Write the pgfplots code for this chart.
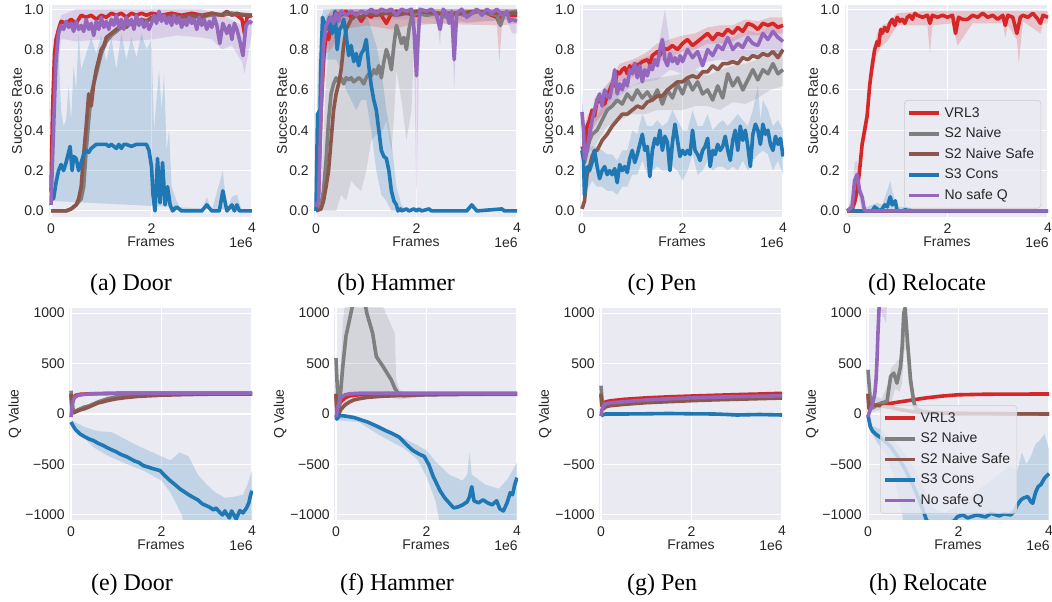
\documentclass[border=0pt]{standalone}
\usepackage{fontspec}
\setmainfont{Liberation Sans}
\newfontfamily\capfont{Liberation Serif}
\usepackage{pgfplots}
\pgfplotsset{compat=1.18}
\definecolor{bgc}{HTML}{EAEAF2}
\definecolor{cR}{HTML}{D62728}
\definecolor{cG}{HTML}{7F7F7F}
\definecolor{cBr}{HTML}{8C564B}
\definecolor{cBl}{HTML}{1F77B4}
\definecolor{cP}{HTML}{9467BD}
\definecolor{legedge}{HTML}{CCCCCC}
\definecolor{txt}{HTML}{262626}
\newcommand\tf{\fontsize{10.5}{12.6}\selectfont\color{txt}}
\newcommand\cf{\capfont\fontsize{18}{21}\selectfont}
\pgfplotsset{
 base/.style={scale only axis, height=159pt,
   axis background/.style={fill=bgc},
   axis line style={draw=none},
   major tick length=0pt,
   xmajorgrids, ymajorgrids, grid style={white, line width=0.8pt},
   xtick={0,2,4}, xticklabels={0,2,4},
   tick label style={font=\tf, inner sep=0pt},
   xticklabel style={anchor=north, yshift=-4.5pt},
   /pgf/number format/assume math mode=true,
   xlabel={Frames},
   every axis x label/.style={at={([yshift=-15pt]rel axis cs:0.5,0)}, anchor=north, inner sep=0pt, font=\tf},
   every axis plot/.append style={line width=2.7pt, line join=round},
   legend image code/.code={\draw[#1, line width=2.7pt] (0pt,0pt) -- (22.5pt,0pt);},
   extra description/.code={\node[anchor=north east,inner sep=0pt,font=\tf] at ([yshift=-15pt]1,0) {1e6};},
   legend style={draw=legedge, fill=bgc, fill opacity=0.8, draw opacity=1, text opacity=1,
     rounded corners=2.5pt, font=\tf, inner xsep=2pt, inner ysep=2pt, row sep=0pt,
     nodes={text height=7.6pt, text depth=1.8pt, inner ysep=3pt, inner xsep=3pt}},
   legend cell align=left,
 },
 sr/.style={base, width=153pt, xmin=-0.04, xmax=4.02, ymin=-0.03, ymax=1.021,
   ytick={0,0.2,0.4,0.6,0.8,1}, yticklabels={0.0,0.2,0.4,0.6,0.8,1.0},
   yticklabel style={anchor=east, xshift=-3.75pt},
   ylabel={Success Rate},
   every axis y label/.style={at={([xshift=-24pt]rel axis cs:0,0.5)}, rotate=90, anchor=center, inner sep=0pt, font=\tf}},
 qv/.style={base, width=138pt, xmin=-0.044, xmax=4.022, ymin=-1050, ymax=1050,
   ytick={-1000,-500,0,500,1000}, yticklabels={−1000,−500,0,500,1000},
   yticklabel style={anchor=east, xshift=-3pt},
   ylabel={Q Value},
   every axis y label/.style={at={([xshift=-40.5pt]rel axis cs:0,0.5)}, rotate=90, anchor=center, inner sep=0pt, font=\tf}},
 band/.style={draw=none, fill=#1, fill opacity=0.2, forget plot},
 lR/.style={cR}, lG/.style={cG}, lBr/.style={cBr}, lBl/.style={cBl}, lP/.style={cP},
}
\begin{document}
\begin{tikzpicture}
\path[use as bounding box] (0,0) rectangle (789pt,451.5pt);
% ================= (a) Door success
\begin{axis}[sr, at={(36.75pt,288.75pt)}, anchor=south west]
\addplot[band=cBl] coordinates {(0,0.12) (0.05,0.3) (0.1,0.5) (0.15,0.82) (0.2,0.5) (0.25,0.42) (0.3,0.45) (0.35,0.62) (0.4,0.45) (0.45,0.72) (0.5,0.6) (0.55,0.88) (0.6,0.7) (0.7,0.78) (0.8,0.86) (0.9,0.78) (1.0,0.87) (1.1,0.74) (1.2,0.86) (1.3,0.7) (1.4,0.88) (1.5,0.75) (1.6,0.86) (1.7,0.76) (1.8,0.88) (1.9,0.8) (2.0,0.85) (2.05,0.4) (2.1,0.55) (2.15,0.7) (2.2,0.5) (2.25,0.68) (2.3,0.3) (2.35,0.4) (2.4,0.12) (2.5,0.05) (2.6,0.0) (3.0,0.0) (3.1,0.07) (3.2,0.0) (3.42,0.2) (3.5,0.0) (3.6,0.07) (3.7,0.08) (3.8,0.0) (4.0,0.0) (4.0,0) (0,0.05)};
\addplot[band=cP] coordinates {(0,0.05) (0.1,0.85) (0.2,0.97) (0.5,1.0) (1,1.0) (2,1.0) (3,1.0) (3.4,0.97) (3.8,0.92) (4,0.97) (4,0.88) (3.85,0.68) (3.8,0.74) (3.6,0.82) (3.4,0.8) (3.2,0.85) (3,0.86) (2.5,0.87) (2.0,0.85) (1.5,0.84) (1.0,0.85) (0.5,0.84) (0.3,0.85) (0.2,0.85) (0.1,0.6) (0,0.01)};
\addplot[lR] coordinates {(0,0.1) (0.03,0.5) (0.07,0.78) (0.1,0.85) (0.15,0.9) (0.2,0.94) (0.3,0.93) (0.4,0.95) (0.5,0.93) (0.6,0.97) (0.7,0.96) (0.8,0.97) (0.9,0.95) (1.0,0.97) (1.1,0.96) (1.2,0.98) (1.3,0.97) (1.4,0.98) (1.5,0.96) (1.6,0.98) (1.7,0.97) (1.8,0.98) (1.9,0.97) (2.0,0.98) (2.2,0.97) (2.4,0.98) (2.6,0.97) (2.8,0.98) (3.0,0.97) (3.2,0.98) (3.4,0.97) (3.6,0.98) (3.7,0.97) (3.8,0.95) (3.85,0.88) (3.9,0.96) (4.0,0.97)};
\addplot[lG] coordinates {(0,0) (0.3,0) (0.4,0.01) (0.5,0.03) (0.6,0.06) (0.65,0.12) (0.7,0.3) (0.75,0.45) (0.8,0.58) (0.9,0.68) (1.0,0.78) (1.1,0.84) (1.2,0.87) (1.4,0.91) (1.6,0.93) (1.8,0.94) (2.0,0.95) (2.4,0.96) (2.8,0.96) (3.2,0.97) (3.6,0.98) (4.0,0.97)};
\addplot[lBr] coordinates {(0,0) (0.3,0) (0.4,0.01) (0.5,0.03) (0.55,0.06) (0.6,0.12) (0.65,0.28) (0.7,0.42) (0.75,0.58) (0.8,0.52) (0.85,0.63) (0.9,0.7) (0.95,0.75) (1.0,0.8) (1.05,0.82) (1.1,0.86) (1.2,0.88) (1.3,0.9) (1.4,0.92) (1.5,0.91) (1.6,0.94) (1.7,0.93) (1.8,0.95) (1.9,0.94) (2.0,0.96) (2.2,0.95) (2.4,0.97) (2.6,0.96) (2.8,0.97) (3.0,0.96) (3.2,0.98) (3.4,0.97) (3.5,0.99) (3.6,0.97) (3.7,0.98) (3.8,0.97) (4.0,0.97)};
\addplot[lBl] coordinates {(0,0.1) (0.05,0.06) (0.1,0.14) (0.15,0.2) (0.2,0.23) (0.25,0.2) (0.3,0.24) (0.38,0.32) (0.42,0.2) (0.45,0.27) (0.5,0.26) (0.55,0.2) (0.6,0.24) (0.65,0.28) (0.7,0.3) (0.75,0.29) (0.8,0.31) (0.9,0.33) (1.0,0.33) (1.1,0.33) (1.15,0.32) (1.2,0.33) (1.3,0.31) (1.35,0.33) (1.4,0.31) (1.45,0.33) (1.5,0.33) (1.6,0.32) (1.7,0.33) (1.8,0.33) (1.9,0.33) (1.95,0.3) (2.0,0.22) (2.03,0.08) (2.07,0.0) (2.12,0.26) (2.17,0.04) (2.22,0.24) (2.27,0.03) (2.32,0.12) (2.37,0.03) (2.42,0.0) (2.5,0.02) (2.6,0.0) (3.0,0.0) (3.1,0.03) (3.2,0.0) (3.35,0.0) (3.42,0.1) (3.5,0.0) (3.6,0.03) (3.65,0.0) (3.7,0.03) (3.75,0.0) (4.0,0.0)};
\addplot[lP] coordinates {(0,0.03) (0.05,0.4) (0.1,0.75) (0.15,0.88) (0.2,0.92) (0.25,0.9) (0.3,0.94) (0.35,0.91) (0.4,0.93) (0.45,0.89) (0.5,0.94) (0.55,0.9) (0.6,0.92) (0.65,0.89) (0.7,0.95) (0.75,0.9) (0.8,0.93) (0.85,0.87) (0.9,0.94) (0.95,0.9) (1.0,0.96) (1.05,0.91) (1.1,0.94) (1.15,0.9) (1.2,0.95) (1.25,0.92) (1.3,0.97) (1.35,0.91) (1.4,0.95) (1.45,0.9) (1.5,0.96) (1.55,0.92) (1.6,0.95) (1.65,0.9) (1.7,0.97) (1.75,0.92) (1.8,0.95) (1.85,0.91) (1.9,0.94) (1.95,0.9) (2.0,0.93) (2.05,0.97) (2.1,0.93) (2.15,0.99) (2.2,0.94) (2.25,0.97) (2.3,0.93) (2.35,0.96) (2.4,0.92) (2.45,0.97) (2.5,0.93) (2.55,0.96) (2.6,0.91) (2.65,0.95) (2.7,0.92) (2.75,0.96) (2.8,0.93) (2.85,0.95) (2.9,0.9) (2.95,0.96) (3.0,0.92) (3.05,0.95) (3.1,0.9) (3.15,0.94) (3.2,0.91) (3.25,0.96) (3.3,0.92) (3.36,0.83) (3.42,0.93) (3.5,0.88) (3.55,0.92) (3.6,0.85) (3.65,0.93) (3.7,0.9) (3.76,0.84) (3.82,0.77) (3.88,0.92) (3.95,0.94) (4.0,0.93)};
\end{axis}
% ================= (b) Hammer success
\begin{axis}[sr, at={(235.5pt,288.75pt)}, anchor=south west]
\addplot[band=cG] coordinates {(0,0) (0.1,0.12) (0.2,0.65) (0.3,0.97) (0.5,1.0) (1.0,1.0) (1.5,1.0) (2.0,1.0) (4.0,1.0) (4.0,0.95) (2.5,0.93) (2.0,0.92) (1.95,0.8) (1.9,0.5) (1.8,0.35) (1.7,0.55) (1.6,0.7) (1.55,0.45) (1.5,0.3) (1.4,0.45) (1.3,0.38) (1.2,0.38) (1.1,0.35) (1.0,0.2) (0.9,0.1) (0.8,0.12) (0.7,0.15) (0.6,0.05) (0.5,0.08) (0.4,0.0) (0.2,0.0) (0,0)};
\addplot[band=cBl] coordinates {(0,0) (0.03,0.65) (0.1,0.95) (0.15,1.0) (0.6,1.0) (0.8,0.95) (1.0,0.98) (1.1,0.9) (1.2,0.82) (1.3,0.7) (1.4,0.5) (1.5,0.35) (1.6,0.12) (1.7,0.03) (1.8,0) (4,0) (4,0) (1.6,0) (1.5,0.0) (1.4,0.05) (1.3,0.08) (1.2,0.2) (1.1,0.4) (1.0,0.55) (0.9,0.55) (0.8,0.5) (0.7,0.55) (0.6,0.6) (0.5,0.7) (0.4,0.75) (0.3,0.75) (0.2,0.75) (0.1,0.45) (0.03,0.3) (0,0)};
\addplot[band=cR] coordinates {(0,0) (0.1,0.6) (0.2,0.95) (0.3,1.0) (4,1.0) (4,0.93) (3.7,0.92) (3.65,0.74) (3.6,0.92) (2.0,0.93) (1.5,0.9) (1.0,0.92) (0.5,0.9) (0.3,0.8) (0.2,0.78) (0.1,0.4) (0,0)};
\addplot[band=cP] coordinates {(0,0.03) (0.1,0.6) (0.2,0.97) (0.4,1.0) (4,1.0) (4,0.88) (3.9,0.88) (3.8,0.95) (3.0,0.93) (2.8,0.95) (2.75,0.6) (2.7,0.95) (2.5,0.96) (2.47,0.82) (2.4,0.95) (2.1,0.97) (2.05,0.75) (2.0,0.04) (1.95,0.8) (1.9,0.95) (0.5,0.95) (0.3,0.85) (0.2,0.8) (0.1,0.35) (0,0.01)};
\addplot[lR] coordinates {(0,0) (0.05,0.1) (0.1,0.5) (0.15,0.75) (0.2,0.88) (0.25,0.85) (0.3,0.92) (0.35,0.96) (0.4,0.98) (0.5,0.97) (0.6,0.99) (0.7,0.96) (0.8,0.98) (0.9,0.94) (1.0,0.98) (1.1,0.96) (1.2,0.99) (1.3,0.97) (1.4,0.93) (1.5,0.98) (1.6,0.99) (1.8,0.98) (2.0,0.97) (2.2,0.99) (2.4,0.98) (2.6,0.97) (2.8,0.98) (3.0,0.97) (3.2,0.99) (3.4,0.98) (3.6,0.96) (3.65,0.93) (3.7,0.98) (3.9,0.97) (4.0,0.97)};
\addplot[lG] coordinates {(0,0) (0.1,0.03) (0.15,0.1) (0.2,0.25) (0.25,0.45) (0.3,0.58) (0.35,0.63) (0.4,0.66) (0.45,0.64) (0.5,0.66) (0.55,0.63) (0.6,0.66) (0.65,0.65) (0.7,0.66) (0.75,0.64) (0.8,0.65) (0.85,0.66) (0.9,0.65) (0.95,0.63) (1.0,0.66) (1.05,0.68) (1.1,0.67) (1.15,0.7) (1.2,0.68) (1.25,0.72) (1.3,0.66) (1.35,0.74) (1.4,0.8) (1.45,0.76) (1.5,0.7) (1.55,0.82) (1.6,0.92) (1.65,0.88) (1.7,0.83) (1.75,0.86) (1.8,0.8) (1.85,0.9) (1.9,0.96) (2.0,0.98) (2.2,0.97) (2.4,0.98) (2.6,0.96) (2.8,0.98) (3.0,0.97) (3.2,0.99) (3.4,0.98) (3.6,0.97) (3.67,0.92) (3.75,0.98) (4.0,0.99)};
\addplot[lBr] coordinates {(0,0) (0.1,0.01) (0.15,0.05) (0.2,0.12) (0.25,0.2) (0.3,0.35) (0.35,0.5) (0.4,0.58) (0.45,0.63) (0.5,0.7) (0.55,0.82) (0.6,0.9) (0.7,0.95) (0.8,0.97) (0.9,0.96) (1.0,0.98) (1.2,0.97) (1.4,0.98) (1.6,0.97) (1.8,0.98) (2.0,0.99) (2.4,0.98) (2.8,0.98) (3.2,0.99) (3.6,0.98) (4.0,0.98)};
\addplot[lBl] coordinates {(0,0) (0.03,0.48) (0.08,0.5) (0.1,0.75) (0.13,0.96) (0.18,0.92) (0.22,0.9) (0.27,0.96) (0.32,0.88) (0.38,0.99) (0.42,0.8) (0.47,0.9) (0.52,0.92) (0.55,0.95) (0.6,0.87) (0.65,0.77) (0.7,0.82) (0.75,0.74) (0.8,0.78) (0.85,0.72) (0.9,0.78) (0.95,0.8) (1.0,0.85) (1.05,0.72) (1.1,0.62) (1.15,0.55) (1.2,0.5) (1.25,0.4) (1.3,0.3) (1.35,0.27) (1.4,0.26) (1.45,0.2) (1.5,0.1) (1.55,0.05) (1.6,0.03) (1.63,0.0) (1.68,0.01) (1.7,0.0) (1.8,0.01) (1.85,0.0) (1.95,0.01) (2.0,0) (2.05,0.01) (2.1,0) (2.25,0.01) (2.3,0) (3.0,0) (3.1,0.03) (3.2,0.0) (3.7,0.01) (3.75,0) (4,0)};
\addplot[lP] coordinates {(0,0.02) (0.05,0.05) (0.1,0.5) (0.15,0.82) (0.2,0.92) (0.25,0.94) (0.3,0.96) (0.35,0.93) (0.4,0.98) (0.45,0.94) (0.5,0.99) (0.6,0.97) (0.7,0.99) (0.8,0.97) (0.9,0.99) (1.0,0.98) (1.1,1.0) (1.2,0.98) (1.3,1.0) (1.4,0.99) (1.5,1.0) (1.6,0.97) (1.7,1.0) (1.8,0.99) (1.9,1.0) (1.95,0.9) (2.0,0.67) (2.03,0.85) (2.07,1.0) (2.2,0.99) (2.3,1.0) (2.4,0.97) (2.47,0.9) (2.53,1.0) (2.6,0.98) (2.65,0.93) (2.7,0.99) (2.75,0.75) (2.8,0.98) (2.9,1.0) (3.0,0.96) (3.1,0.98) (3.2,1.0) (3.3,0.97) (3.4,1.0) (3.5,0.98) (3.6,1.0) (3.7,0.97) (3.8,0.99) (3.85,0.94) (3.9,0.95) (4.0,0.94)};
\end{axis}
% ================= (c) Pen success
\begin{axis}[sr, at={(435pt,288.75pt)}, anchor=south west]
\addplot[band=cBl] coordinates {(0,0.6) (0.05,0.35) (0.1,0.3) (0.2,0.32) (0.3,0.32) (0.4,0.3) (0.5,0.28) (0.6,0.28) (0.7,0.25) (0.8,0.3) (0.9,0.3) (1.0,0.4) (1.1,0.38) (1.2,0.48) (1.3,0.42) (1.4,0.42) (1.5,0.45) (1.6,0.42) (1.7,0.44) (1.8,0.5) (1.9,0.45) (2.0,0.4) (2.1,0.4) (2.2,0.5) (2.3,0.42) (2.4,0.42) (2.5,0.48) (2.6,0.4) (2.7,0.43) (2.8,0.45) (2.9,0.42) (3.0,0.45) (3.1,0.48) (3.2,0.45) (3.3,0.42) (3.4,0.5) (3.5,0.62) (3.55,0.45) (3.6,0.55) (3.7,0.5) (3.8,0.42) (3.9,0.45) (4.0,0.4) (4.0,0.18) (3.9,0.25) (3.8,0.2) (3.7,0.28) (3.6,0.3) (3.5,0.28) (3.4,0.25) (3.3,0.2) (3.2,0.25) (3.1,0.2) (3.0,0.22) (2.9,0.2) (2.8,0.22) (2.7,0.22) (2.6,0.2) (2.5,0.25) (2.4,0.2) (2.3,0.18) (2.2,0.28) (2.1,0.2) (2.0,0.15) (1.9,0.2) (1.8,0.22) (1.7,0.2) (1.6,0.2) (1.5,0.22) (1.4,0.2) (1.3,0.18) (1.2,0.25) (1.1,0.18) (1.0,0.18) (0.9,0.12) (0.8,0.12) (0.7,0.08) (0.6,0.1) (0.5,0.1) (0.4,0.12) (0.3,0.12) (0.2,0.15) (0.1,0.1) (0.05,0.02) (0,0.1)};
\addplot[band=cR] coordinates {(0,0.35) (0.1,0.47) (0.25,0.52) (0.5,0.62) (0.75,0.73) (1.0,0.75) (1.25,0.78) (1.5,0.83) (1.75,0.85) (2.0,0.87) (2.25,0.88) (2.5,0.91) (2.75,0.92) (3.0,0.92) (3.25,0.95) (3.5,0.94) (3.75,0.96) (4.0,0.96) (4.0,0.88) (3.75,0.88) (3.5,0.87) (3.25,0.87) (3.0,0.84) (2.75,0.83) (2.5,0.83) (2.25,0.8) (2.0,0.79) (1.75,0.76) (1.5,0.74) (1.25,0.7) (1.0,0.66) (0.75,0.64) (0.5,0.52) (0.25,0.42) (0.1,0.37) (0,0.28)};
\addplot[band=cG] coordinates {(0,0.33) (0.25,0.45) (0.5,0.56) (0.75,0.61) (1.0,0.62) (1.25,0.65) (1.5,0.66) (1.75,0.67) (2.0,0.68) (2.25,0.7) (2.5,0.67) (2.75,0.7) (3.0,0.72) (3.25,0.73) (3.5,0.75) (3.75,0.8) (4.0,0.8) (4.0,0.62) (3.75,0.6) (3.5,0.56) (3.25,0.53) (3.0,0.54) (2.75,0.5) (2.5,0.52) (2.25,0.52) (2.0,0.5) (1.75,0.5) (1.5,0.5) (1.25,0.48) (1.0,0.48) (0.75,0.45) (0.5,0.42) (0.25,0.32) (0,0.25)};
\addplot[band=cP] coordinates {(0,0.52) (0.1,0.36) (0.25,0.56) (0.5,0.63) (0.75,0.69) (1.0,0.74) (1.25,0.76) (1.5,0.79) (1.65,1.0) (1.75,0.83) (2.0,0.8) (2.25,0.84) (2.5,0.85) (2.75,0.87) (3.0,0.86) (3.25,0.9) (3.5,0.88) (3.75,0.92) (4.0,0.9) (4.0,0.78) (3.75,0.8) (3.5,0.76) (3.25,0.77) (3.0,0.74) (2.75,0.75) (2.5,0.74) (2.25,0.7) (2.0,0.68) (1.75,0.7) (1.5,0.65) (1.25,0.64) (1.0,0.62) (0.75,0.57) (0.5,0.5) (0.25,0.44) (0.1,0.25) (0,0.46)};
\addplot[lR] coordinates {(0,0.32) (0.03,0.3) (0.06,0.27) (0.1,0.42) (0.15,0.45) (0.2,0.5) (0.25,0.47) (0.3,0.55) (0.35,0.54) (0.4,0.55) (0.45,0.53) (0.5,0.57) (0.55,0.6) (0.6,0.63) (0.65,0.62) (0.7,0.69) (0.75,0.68) (0.8,0.7) (0.85,0.71) (0.9,0.68) (0.95,0.72) (1.0,0.7) (1.05,0.73) (1.1,0.72) (1.2,0.74) (1.3,0.75) (1.35,0.73) (1.4,0.77) (1.5,0.79) (1.55,0.77) (1.6,0.81) (1.7,0.8) (1.8,0.82) (1.9,0.8) (2.0,0.83) (2.1,0.85) (2.2,0.82) (2.3,0.84) (2.4,0.86) (2.5,0.88) (2.6,0.85) (2.7,0.88) (2.8,0.87) (2.9,0.9) (3.0,0.88) (3.1,0.91) (3.2,0.89) (3.3,0.93) (3.4,0.92) (3.5,0.9) (3.6,0.93) (3.7,0.92) (3.8,0.93) (3.9,0.91) (4.0,0.92)};
\addplot[lG] coordinates {(0,0.3) (0.05,0.24) (0.1,0.3) (0.15,0.35) (0.2,0.38) (0.3,0.4) (0.4,0.45) (0.5,0.5) (0.6,0.52) (0.7,0.55) (0.8,0.53) (0.9,0.58) (1.0,0.55) (1.1,0.6) (1.2,0.56) (1.3,0.59) (1.4,0.55) (1.5,0.6) (1.6,0.53) (1.7,0.6) (1.8,0.56) (1.9,0.63) (2.0,0.58) (2.1,0.65) (2.2,0.6) (2.3,0.64) (2.4,0.58) (2.5,0.6) (2.6,0.55) (2.7,0.62) (2.8,0.56) (2.9,0.68) (3.0,0.62) (3.1,0.66) (3.2,0.6) (3.3,0.65) (3.4,0.7) (3.5,0.65) (3.6,0.7) (3.7,0.68) (3.8,0.73) (3.9,0.68) (4.0,0.7)};
\addplot[lBr] coordinates {(0,0.01) (0.05,0.05) (0.1,0.18) (0.15,0.22) (0.2,0.27) (0.25,0.3) (0.3,0.3) (0.4,0.35) (0.5,0.38) (0.6,0.42) (0.7,0.45) (0.8,0.48) (0.9,0.48) (1.0,0.5) (1.1,0.52) (1.2,0.51) (1.3,0.54) (1.4,0.55) (1.5,0.57) (1.6,0.57) (1.7,0.6) (1.8,0.62) (1.9,0.64) (2.0,0.64) (2.1,0.66) (2.2,0.67) (2.3,0.66) (2.4,0.69) (2.5,0.69) (2.6,0.72) (2.7,0.7) (2.8,0.73) (2.9,0.73) (3.0,0.74) (3.1,0.73) (3.2,0.76) (3.3,0.75) (3.4,0.77) (3.5,0.76) (3.6,0.78) (3.7,0.77) (3.8,0.79) (3.9,0.76) (4.0,0.8)};
\addplot[lBl] coordinates {(0,0.3) (0.03,0.25) (0.05,0.08) (0.08,0.2) (0.12,0.22) (0.15,0.2) (0.2,0.24) (0.25,0.3) (0.3,0.22) (0.35,0.16) (0.4,0.2) (0.45,0.22) (0.5,0.18) (0.55,0.2) (0.6,0.18) (0.65,0.21) (0.7,0.14) (0.75,0.23) (0.8,0.2) (0.85,0.22) (0.9,0.19) (0.95,0.26) (1.0,0.3) (1.05,0.24) (1.1,0.28) (1.15,0.33) (1.2,0.38) (1.25,0.3) (1.3,0.32) (1.35,0.17) (1.4,0.3) (1.45,0.36) (1.5,0.33) (1.55,0.4) (1.6,0.3) (1.65,0.37) (1.7,0.34) (1.75,0.2) (1.8,0.34) (1.85,0.43) (1.9,0.35) (1.95,0.27) (2.0,0.3) (2.05,0.28) (2.1,0.3) (2.15,0.28) (2.2,0.4) (2.25,0.3) (2.3,0.28) (2.35,0.25) (2.4,0.3) (2.45,0.32) (2.5,0.36) (2.55,0.22) (2.6,0.3) (2.65,0.28) (2.7,0.33) (2.75,0.3) (2.8,0.32) (2.85,0.37) (2.9,0.3) (2.95,0.25) (3.0,0.35) (3.05,0.4) (3.1,0.3) (3.15,0.42) (3.2,0.35) (3.25,0.4) (3.3,0.32) (3.35,0.22) (3.4,0.38) (3.45,0.43) (3.5,0.4) (3.55,0.33) (3.6,0.43) (3.65,0.38) (3.7,0.4) (3.75,0.33) (3.8,0.3) (3.85,0.37) (3.9,0.33) (3.95,0.36) (4.0,0.27)};
\addplot[lP] coordinates {(0,0.49) (0.03,0.4) (0.05,0.26) (0.1,0.3) (0.15,0.38) (0.2,0.45) (0.25,0.5) (0.3,0.55) (0.35,0.58) (0.4,0.52) (0.45,0.6) (0.5,0.57) (0.55,0.56) (0.6,0.62) (0.65,0.7) (0.7,0.58) (0.75,0.63) (0.8,0.6) (0.85,0.65) (0.9,0.62) (0.95,0.7) (1.0,0.68) (1.05,0.73) (1.1,0.66) (1.15,0.72) (1.2,0.64) (1.25,0.7) (1.3,0.67) (1.35,0.72) (1.4,0.7) (1.45,0.75) (1.5,0.72) (1.55,0.8) (1.6,0.85) (1.65,0.75) (1.7,0.72) (1.75,0.78) (1.8,0.74) (1.85,0.76) (1.9,0.73) (1.95,0.77) (2.0,0.74) (2.1,0.8) (2.2,0.76) (2.3,0.79) (2.4,0.72) (2.5,0.8) (2.6,0.77) (2.7,0.82) (2.8,0.8) (2.9,0.86) (3.0,0.8) (3.1,0.83) (3.2,0.81) (3.3,0.86) (3.4,0.83) (3.5,0.82) (3.6,0.88) (3.7,0.85) (3.8,0.89) (3.9,0.86) (4.0,0.84)};
\end{axis}
% ================= (d) Relocate success
\begin{axis}[sr, at={(633.75pt,288.75pt)}, anchor=south west,
  legend style={at={(0.961,0.552)}, anchor=north east}]
\addplot[band=cR] coordinates {(0,0) (0.2,0.14) (0.3,0.38) (0.4,0.53) (0.5,0.76) (0.6,0.88) (0.7,0.92) (0.8,0.93) (1.0,0.98) (1.5,0.99) (2,0.99) (3,0.99) (4,0.99) (4,0.93) (3.9,0.93) (3.85,0.88) (3.5,0.94) (3.42,0.73) (3.38,0.85) (3.2,0.92) (3.15,0.86) (3.1,0.93) (2.5,0.93) (2.2,0.82) (2.1,0.93) (1.7,0.92) (1.65,0.78) (1.6,0.92) (1.2,0.92) (1.0,0.92) (0.8,0.84) (0.7,0.82) (0.6,0.78) (0.5,0.66) (0.4,0.4) (0.3,0.28) (0.2,0.06) (0,0)};
\addplot[band=cP] coordinates {(0,0) (0.1,0.04) (0.15,0.24) (0.2,0.25) (0.25,0.15) (0.3,0.1) (0.35,0.02) (0.4,0) (4,0) (4,0) (0.3,0) (0.2,0.1) (0.15,0.06) (0.1,0) (0,0)};
\addplot[band=cBl] coordinates {(0,0) (0.1,0.03) (0.2,0) (0.5,0.03) (0.6,0.04) (0.7,0.03) (0.8,0.1) (0.86,0.15) (0.9,0.1) (0.95,0.06) (1.0,0.02) (1.2,0.02) (1.3,0) (4,0) (4,0) (0,0)};
\addplot[lR] coordinates {(0,0) (0.1,0.01) (0.15,0.04) (0.2,0.1) (0.25,0.2) (0.3,0.33) (0.35,0.4) (0.4,0.47) (0.45,0.62) (0.5,0.72) (0.55,0.8) (0.6,0.84) (0.63,0.82) (0.67,0.9) (0.7,0.88) (0.75,0.91) (0.8,0.89) (0.85,0.93) (0.9,0.95) (0.95,0.92) (1.0,0.96) (1.05,0.94) (1.1,0.95) (1.15,0.93) (1.2,0.96) (1.25,0.97) (1.3,0.95) (1.35,0.98) (1.4,0.97) (1.5,0.96) (1.6,0.97) (1.65,0.93) (1.7,0.97) (1.8,0.96) (1.9,0.97) (2.0,0.96) (2.1,0.97) (2.16,0.88) (2.22,0.96) (2.3,0.95) (2.4,0.95) (2.5,0.97) (2.6,0.96) (2.7,0.98) (2.8,0.96) (2.9,0.97) (3.0,0.95) (3.1,0.97) (3.15,0.92) (3.2,0.97) (3.3,0.96) (3.38,0.88) (3.45,0.96) (3.5,0.97) (3.6,0.96) (3.7,0.98) (3.8,0.95) (3.85,0.93) (3.9,0.97) (4.0,0.96)};
\addlegendentry{VRL3}
\addplot[lG] coordinates {(0,0) (4,0)};
\addlegendentry{S2 Naive}
\addplot[lBr] coordinates {(0,0) (4,0)};
\addlegendentry{S2 Naive Safe}
\addplot[lBl] coordinates {(0,0) (0.1,0.01) (0.15,0.0) (0.5,0.0) (0.55,0.02) (0.6,0.01) (0.65,0.0) (0.7,0.01) (0.75,0.03) (0.8,0.02) (0.86,0.07) (0.9,0.03) (0.96,0.05) (1.0,0.0) (1.1,0.0) (1.2,0.01) (1.3,0.0) (4,0)};
\addlegendentry{S3 Cons}
\addplot[lP] coordinates {(0,0) (0.1,0.02) (0.15,0.15) (0.2,0.18) (0.25,0.1) (0.3,0.07) (0.35,0.0) (4,0)};
\addlegendentry{No safe Q}
\end{axis}
% ================= (e) Door Q
\begin{axis}[qv, at={(51.75pt,61.5pt)}, anchor=south west]
\addplot[band=cBl] coordinates {(0,-60) (0.3,-130) (0.6,-170) (0.9,-180) (1.2,-250) (1.5,-320) (1.8,-380) (2.0,-420) (2.2,-460) (2.4,-380) (2.6,-420) (2.8,-600) (3.0,-700) (3.2,-780) (3.4,-830) (3.6,-820) (3.8,-800) (3.9,-700) (4.0,-560) (4,-1100) (2.5,-1100) (2.45,-1000) (2.2,-780) (2.0,-660) (1.6,-560) (1.2,-490) (0.8,-410) (0.5,-330) (0.2,-200) (0,-90)};
\addplot[lR] coordinates {(0,200) (0.02,100) (0.05,150) (0.1,185) (0.2,195) (0.4,200) (1,205) (2,205) (3,205) (4,205)};
\addplot[lG] coordinates {(0,230) (0.02,150) (0.05,30) (0.1,30) (0.2,50) (0.3,70) (0.4,80) (0.5,100) (0.6,120) (0.8,150) (1.0,170) (1.3,185) (1.5,190) (2,195) (3,200) (4,200)};
\addplot[lBr] coordinates {(0,200) (0.02,30) (0.05,10) (0.1,20) (0.2,40) (0.3,52) (0.4,70) (0.5,90) (0.6,110) (0.7,120) (0.8,132) (1.0,150) (1.2,162) (1.5,175) (2.0,186) (2.5,192) (3.0,196) (3.5,198) (4.0,198)};
\addplot[lBl] coordinates {(0,-80) (0.05,-120) (0.1,-155) (0.2,-198) (0.3,-225) (0.4,-248) (0.5,-264) (0.6,-290) (0.7,-310) (0.86,-347) (1.0,-375) (1.1,-400) (1.23,-423) (1.3,-440) (1.4,-465) (1.5,-480) (1.6,-512) (1.7,-525) (1.8,-540) (1.97,-561) (2.05,-600) (2.19,-660) (2.3,-700) (2.41,-743) (2.5,-770) (2.6,-800) (2.7,-826) (2.8,-850) (2.9,-890) (3.0,-910) (3.07,-925) (3.15,-950) (3.2,-930) (3.3,-980) (3.35,-1000) (3.4,-960) (3.44,-990) (3.5,-1030) (3.55,-960) (3.6,-1000) (3.65,-1040) (3.73,-957) (3.8,-980) (3.88,-930) (3.93,-880) (3.97,-800) (4.0,-760)};
\addplot[lP] coordinates {(0,-30) (0.03,100) (0.07,160) (0.15,185) (0.3,195) (0.5,200) (1,205) (2,205) (3,207) (4,207)};
\end{axis}
% ================= (f) Hammer Q
\begin{axis}[qv, at={(250.5pt,61.5pt)}, anchor=south west]
\addplot[band=cG] coordinates {(0,600) (0.05,200) (0.1,450) (0.15,900) (0.2,1100) (1.0,1100) (1.1,1000) (1.2,900) (1.3,800) (1.33,350) (1.4,240) (1.6,210) (2.0,205) (4,205) (4,185) (2.0,175) (1.6,155) (1.4,145) (1.2,160) (1.0,180) (0.8,200) (0.5,180) (0.3,150) (0.15,100) (0.1,0) (0.05,50) (0,500)};
\addplot[band=cBl] coordinates {(0,-10) (0.5,-30) (1.0,-130) (1.5,-240) (1.8,-310) (2.0,-360) (2.2,-470) (2.5,-600) (2.8,-660) (2.9,-600) (2.95,-380) (3.0,-600) (3.3,-700) (3.6,-740) (3.8,-640) (3.9,-560) (4.0,-480) (4.0,-1100) (2.3,-1100) (2.2,-860) (2.0,-620) (1.8,-450) (1.5,-340) (1.0,-220) (0.5,-80) (0,-60)};
\addplot[lR] coordinates {(0,200) (0.02,50) (0.05,60) (0.1,120) (0.2,160) (0.3,180) (0.5,190) (1.0,195) (2.0,200) (3.0,200) (4.0,200)};
\addplot[lG] coordinates {(0,553) (0.04,140) (0.07,41) (0.1,200) (0.15,470) (0.22,770) (0.33,1000) (0.4,1150) (0.5,1300) (0.6,1200) (0.68,1000) (0.81,800) (0.89,570) (1.04,470) (1.15,390) (1.22,340) (1.3,255) (1.37,206) (1.48,180) (1.7,185) (2.0,190) (3.0,195) (4.0,195)};
\addplot[lBr] coordinates {(0,200) (0.02,0) (0.05,-20) (0.1,40) (0.2,90) (0.3,120) (0.4,140) (0.5,150) (0.7,165) (1.0,175) (1.5,185) (2.0,192) (3.0,198) (4.0,200)};
\addplot[lBl] coordinates {(0,-30) (0.02,-50) (0.08,-15) (0.2,-20) (0.4,-35) (0.5,-50) (0.7,-80) (0.9,-120) (1.1,-165) (1.25,-195) (1.4,-230) (1.55,-300) (1.7,-362) (1.85,-400) (1.95,-420) (2.05,-500) (2.15,-620) (2.3,-760) (2.4,-830) (2.5,-880) (2.6,-930) (2.7,-920) (2.8,-900) (2.9,-870) (2.95,-820) (3.0,-720) (3.05,-860) (3.15,-880) (3.25,-850) (3.35,-880) (3.45,-900) (3.55,-860) (3.62,-940) (3.7,-960) (3.78,-880) (3.85,-780) (3.9,-800) (3.95,-700) (4.0,-630)};
\addplot[lP] coordinates {(0,-30) (0.03,50) (0.07,120) (0.1,160) (0.2,190) (0.3,200) (0.5,205) (1,205) (2,205) (3,205) (4,205)};
\end{axis}
% ================= (g) Pen Q
\begin{axis}[qv, at={(449.25pt,61.5pt)}, anchor=south west]
\addplot[lR] coordinates {(0,200) (0.02,80) (0.05,100) (0.1,120) (0.2,130) (0.5,145) (1.0,160) (1.5,170) (2.0,178) (2.5,185) (3.0,192) (3.5,198) (4.0,205)};
\addplot[lG] coordinates {(0,280) (0.02,150) (0.05,80) (0.1,90) (0.3,105) (0.5,115) (1,130) (2,150) (3,165) (4,175)};
\addplot[lBr] coordinates {(0,200) (0.02,100) (0.05,50) (0.1,70) (0.2,82) (0.5,95) (1.0,112) (1.5,122) (2.0,132) (2.5,140) (3.0,146) (3.5,152) (4.0,158)};
\addplot[lBl] coordinates {(0,-20) (0.03,-10) (0.1,0) (0.5,0) (1,2) (1.5,5) (2,2) (2.5,0) (2.8,-5) (3,-10) (3.5,-5) (4,-10)};
\addplot[lP] coordinates {(0,-20) (0.02,40) (0.05,80) (0.1,100) (0.2,110) (0.6,125) (1.0,138) (1.5,150) (2.0,160) (2.5,166) (3.0,172) (3.5,176) (4.0,180)};
\end{axis}
% ================= (h) Relocate Q
\begin{axis}[qv, at={(649.5pt,61.5pt)}, anchor=south west,
  legend style={at={(0.821,0.542)}, anchor=north east}]
\addplot[band=cBl] coordinates {(0,0) (0.1,-120) (0.3,-160) (0.5,-240) (0.7,-330) (0.9,-450) (1.1,-600) (1.3,-800) (1.5,-950) (1.7,-980) (2.0,-900) (2.3,-800) (2.6,-700) (2.9,-600) (3.1,-520) (3.3,-560) (3.4,-380) (3.5,-500) (3.6,-420) (3.7,-300) (3.8,-260) (3.9,-200) (4.0,-350) (4.0,-1100) (0.8,-1100) (0.6,-650) (0.4,-400) (0.2,-280) (0.1,-200) (0,-30)};
\addplot[band=cG] coordinates {(0,450) (0.05,200) (0.3,150) (0.45,300) (0.5,450) (0.6,500) (0.7,550) (0.75,700) (0.8,1100) (0.85,1100) (0.9,700) (0.95,400) (1.0,200) (1.1,60) (2,10) (4,0) (4,0) (2,0) (1.1,0) (1.0,50) (0.9,300) (0.85,650) (0.8,620) (0.75,300) (0.7,220) (0.6,250) (0.5,100) (0.4,60) (0.1,20) (0,400)};
\addplot[band=cP] coordinates {(0.1,100) (0.2,700) (0.22,1100) (0.42,1100) (0.4,900) (0.3,1000) (0.25,1000) (0.18,300) (0.1,60)};
\addplot[lR] coordinates {(0,200) (0.02,100) (0.05,80) (0.1,88) (0.3,95) (0.5,105) (0.7,120) (1.0,140) (1.24,157) (1.6,176) (1.98,190) (2.5,195) (3.0,197) (4.0,198)};
\addlegendentry{VRL3}
\addplot[lG] coordinates {(0,438) (0.05,140) (0.1,60) (0.2,90) (0.3,110) (0.42,124) (0.5,372) (0.57,405) (0.64,306) (0.72,471) (0.76,700) (0.79,1000) (0.82,1050) (0.87,736) (0.94,339) (1.01,124) (1.05,60) (1.2,20) (1.5,10) (2,5) (4,0)};
\addlegendentry{S2 Naive}
\addplot[lBr] coordinates {(0,200) (0.02,50) (0.05,100) (0.1,90) (0.3,80) (0.5,65) (0.7,45) (1.0,22) (1.5,10) (2.0,5) (3.0,2) (4.0,0)};
\addlegendentry{S2 Naive Safe}
\addplot[lBl] coordinates {(0,-10) (0.05,-124) (0.1,-170) (0.2,-210) (0.3,-240) (0.5,-322) (0.65,-420) (0.79,-521) (0.9,-620) (1.01,-719) (1.16,-884) (1.24,-983) (1.3,-1060) (1.6,-1100) (1.9,-1060) (1.98,-1016) (2.1,-1000) (2.2,-1030) (2.4,-1000) (2.6,-1020) (2.72,-983) (2.9,-1010) (3.0,-990) (3.16,-1000) (3.25,-950) (3.3,-900) (3.38,-850) (3.45,-830) (3.53,-818) (3.6,-870) (3.64,-884) (3.7,-780) (3.76,-719) (3.82,-700) (3.9,-636) (4.0,-590)};
\addlegendentry{S3 Cons}
\addplot[lP] coordinates {(0,-30) (0.03,20) (0.07,60) (0.1,100) (0.15,200) (0.18,350) (0.2,550) (0.22,800) (0.24,1000) (0.26,1200)};
\addlegendentry{No safe Q}
\end{axis}
% captions
\node[font=\cf, inner sep=0pt] at (98.25pt,237.75pt) {(a) Door};
\node[font=\cf, inner sep=0pt] at (297pt,237.75pt) {(b) Hammer};
\node[font=\cf, inner sep=0pt] at (496.5pt,237.75pt) {(c) Pen};
\node[font=\cf, inner sep=0pt] at (695.25pt,237.75pt) {(d) Relocate};
\node[font=\cf, inner sep=0pt] at (99pt,12.75pt) {(e) Door};
\node[font=\cf, inner sep=0pt] at (297.75pt,12.75pt) {(f) Hammer};
\node[font=\cf, inner sep=0pt] at (496.5pt,12.75pt) {(g) Pen};
\node[font=\cf, inner sep=0pt] at (696pt,12.75pt) {(h) Relocate};
\end{tikzpicture}
\end{document}
